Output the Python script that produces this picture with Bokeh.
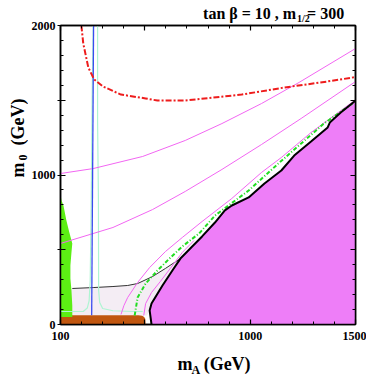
import math
from bokeh.plotting import figure
from bokeh.models import Range1d, FixedTicker, LinearAxis, Label
from bokeh.layouts import row, column
from bokeh.embed import file_html
from bokeh.resources import INLINE

# ---- data (m_A, m0 in GeV) ----
magenta_x = [532, 523, 532, 584, 631, 669, 725, 772, 833, 880, 913, 993, 1068, 1148, 1209, 1289, 1368, 1378, 1430, 1495, 1500, 1500]
magenta_y = [0, 94, 140, 261, 361, 441, 522, 589, 682, 763, 796, 850, 943, 1030, 1130, 1224, 1318, 1351, 1418, 1492, 1498, 0]

lav_x = [100, 156, 255, 349, 419, 466, 537, 598, 669, 631, 584, 532, 523, 510, 100]
lav_y = [241, 241, 247, 254, 261, 274, 321, 375, 441, 361, 261, 140, 94, 60, 60]

thin_x = [156, 255, 349, 419, 466, 537, 598, 669]
thin_y = [241, 247, 254, 261, 274, 321, 375, 441]

brown_x = [100, 470, 488, 497, 502, 504, 100]
brown_y = [62, 62, 58, 50, 38, 0, 0]

green_x = [100, 105, 114, 128, 142, 156, 152, 147, 147, 152, 156, 156, 100]
green_y = [863, 829, 796, 696, 615, 542, 482, 395, 308, 227, 127, 50, 50]

mintL_x = [100, 208, 227, 236, 241, 246, 250, 255]
mintL_y = [87, 87, 110, 160, 294, 829, 1498, 2000]
mintR_x = [276, 276, 280, 281, 286, 300, 349, 443, 490]
mintR_y = [2000, 1365, 829, 227, 147, 107, 92, 87, 87]

blue_x = [257, 248]
blue_y = [2000, 62]

red_x = [199, 208, 232, 260, 302, 387, 504, 560, 692, 960, 1162, 1364, 1500]
red_y = [2000, 1880, 1719, 1639, 1592, 1538, 1512, 1498, 1498, 1538, 1585, 1625, 1655]

gdd_x = [452, 466, 504, 560, 617, 678, 758, 833, 993, 1134, 1350, 1486]
gdd_y = [60, 181, 274, 361, 441, 522, 609, 729, 896, 1077, 1344, 1478]

pa_x = [100, 255, 490, 692, 866, 1054, 1232, 1500]
pa_y = [1010, 1043, 1124, 1231, 1344, 1478, 1619, 1846]
pb_x = [100, 349, 537, 692, 866, 1054, 1242, 1500]
pb_y = [542, 649, 769, 890, 1037, 1204, 1378, 1625]
m1_x = [387, 401, 419, 466, 523, 598, 678, 772, 913, 1054, 1148, 1289, 1495]
m1_y = [67, 127, 181, 281, 381, 488, 582, 689, 843, 1017, 1117, 1284, 1498]
m3_x = [495, 504, 532, 574, 621, 678, 734]
m3_y = [60, 140, 214, 288, 375, 482, 562]

x_major = [100, 500, 1000, 1500]
x_minor = [200, 300, 400, 600, 700, 800, 900, 1100, 1200, 1300, 1400]
y_major = [0, 500, 1000, 1500, 2000]
y_minor = [100, 200, 300, 400, 600, 700, 800, 900, 1100, 1200, 1300, 1400, 1600, 1700, 1800, 1900]

title_main = "tan \u03b2 = 10 , m"
title_sub = "1/2"
title_end = "= 300"

FONT = "Liberation Serif"

p = figure(width=338, height=329, output_backend="svg", toolbar_location=None,
           x_range=Range1d(100, 1500), y_range=Range1d(0, 2000),
           min_border_left=29, min_border_right=11, min_border_top=6, min_border_bottom=24)
p.margin = (-6, 0, 0, 0)
p.grid.visible = False
p.outline_line_color = "black"
p.outline_line_width = 1.5
p.background_fill_color = "white"
p.border_fill_color = None

# fills
p.patch(lav_x, lav_y, fill_color="#f4edf4", line_color=None)
p.patch(brown_x, brown_y, fill_color="#c0560f", line_color=None)
p.patch(green_x, green_y, fill_color="#5cee14", line_color=None)
p.patch(magenta_x, magenta_y, fill_color="#ee7ef8", line_color=None)

# lines
p.line(thin_x, thin_y, line_color="#333333", line_width=1)
p.line(mintL_x, mintL_y, line_color="#aef5d2", line_width=1.2)
p.line(mintR_x, mintR_y, line_color="#aef5d2", line_width=1.2)
p.line(pa_x, pa_y, line_color="#f266f2", line_width=1)
p.line(pb_x, pb_y, line_color="#f266f2", line_width=1)
p.line(m1_x, m1_y, line_color="#f266f2", line_width=1)
p.line(m3_x, m3_y, line_color="#f266f2", line_width=1)
p.line(blue_x, blue_y, line_color="#3a4cf0", line_width=1.3)
p.line(gdd_x, gdd_y, line_color="#22dd22", line_width=2, line_dash="4 2 1 2")
p.line(red_x, red_y, line_color="#ee1c1c", line_width=2, line_dash="6 2 2 2")
p.line(magenta_x[:-1], magenta_y[:-1], line_color="black", line_width=2)

def style_axis(ax, labels=True):
    ax.axis_line_width = 1.5
    ax.major_tick_line_width = 1.2
    ax.minor_tick_line_width = 1
    ax.major_tick_in = 5
    ax.minor_tick_in = 3
    ax.minor_tick_out = 0
    ax.major_label_text_font = FONT
    ax.major_label_text_font_style = "bold"
    ax.major_label_text_font_size = "12px"
    ax.major_label_text_color = "black"
    if not labels:
        ax.major_tick_out = 0
        ax.major_label_text_font_size = "0px"
        ax.major_label_text_color = None
        ax.major_label_standoff = 0

xt = FixedTicker(ticks=x_major, minor_ticks=x_minor)
yt = FixedTicker(ticks=y_major, minor_ticks=y_minor)

p.xaxis.ticker = xt
p.yaxis.ticker = yt
style_axis(p.xaxis[0])
style_axis(p.yaxis[0])
p.xaxis.major_tick_out = 0
p.xaxis.major_label_standoff = 7
p.xaxis.major_label_overrides = {500: ""}
p.yaxis.major_tick_out = 3
p.yaxis.major_label_standoff = 2
p.yaxis.major_label_overrides = {500: "", 1500: ""}

top = LinearAxis(ticker=xt)
style_axis(top, labels=False)
p.add_layout(top, "above")
right = LinearAxis(ticker=yt)
style_axis(right, labels=False)
p.add_layout(right, "right")


def text_fig(w, h):
    f = figure(width=w, height=h, output_backend="svg", toolbar_location=None,
               x_range=Range1d(0, w), y_range=Range1d(0, h),
               x_axis_type=None, y_axis_type=None, min_border=0)
    f.grid.visible = False
    f.outline_line_color = None
    f.background_fill_color = None
    f.border_fill_color = None
    return f


def lab(f, text, x, y, size, align="left", angle=0.0):
    # y / x given for the text's vertical middle (baseline sits ~0.34 em lower)
    f.add_layout(Label(x=x, y=y, text=text, text_font=FONT, text_font_style="bold",
                       text_font_size=size, text_align=align, text_baseline="middle",
                       angle=angle, text_color="black"))

# title strip (above the plot), height 25
tf = text_fig(338, 25)
lab(tf, title_main, 270, 12, "16px", "right")
lab(tf, title_sub, 271, 7, "10px", "left")
lab(tf, title_end, 325, 12, "16px", "right")

# x label strip, height 34
xf = text_fig(338, 34)
lab(xf, "m", 134, 19, "18px")
lab(xf, "A", 150, 13, "12px")
lab(xf, "(GeV)", 164, 19, "18px")

# y label strip
yf = text_fig(28, 382)
lab(yf, "m", 17, 205, "18px", "left", math.pi / 2)
lab(yf, "0", 22, 222, "12px", "left", math.pi / 2)
lab(yf, "(GeV)", 17, 237, "18px", "left", math.pi / 2)

layout = row(yf, column(tf, p, xf, spacing=0), spacing=0)

open("out.html", "w").write(file_html(layout, INLINE))
